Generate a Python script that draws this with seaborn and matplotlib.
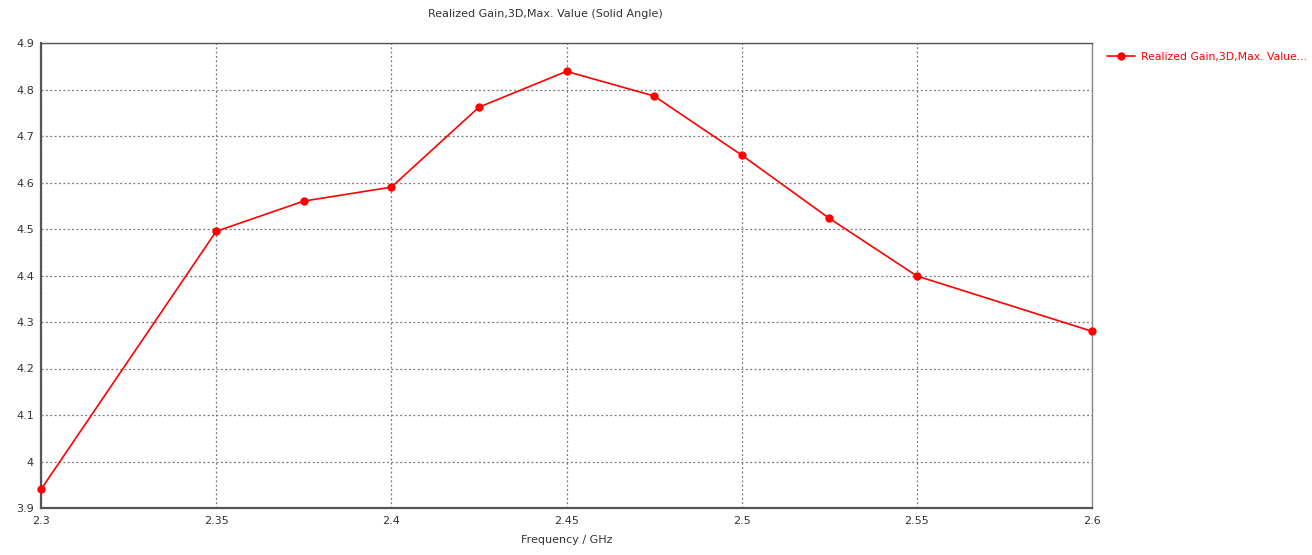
import matplotlib
matplotlib.use("Agg")
import matplotlib.pyplot as plt
import seaborn as sns
import pandas as pd

# Values
freq_ghz = [2.3, 2.35, 2.375, 2.4, 2.425, 2.45, 2.475, 2.5, 2.525, 2.55, 2.6]
gain = [3.94, 4.495, 4.56, 4.59, 4.762, 4.839, 4.786, 4.659, 4.523, 4.399, 4.28]
x_ticks = [2.3, 2.35, 2.4, 2.45, 2.5, 2.55, 2.6]
x_tick_labels = ["2.3", "2.35", "2.4", "2.45", "2.5", "2.55", "2.6"]
y_ticks = [3.9, 4.0, 4.1, 4.2, 4.3, 4.4, 4.5, 4.6, 4.7, 4.8, 4.9]
y_tick_labels = ["3.9", "4", "4.1", "4.2", "4.3", "4.4", "4.5", "4.6", "4.7", "4.8", "4.9"]
series_name = "Realized Gain,3D,Max. Value..."

sns.set_style("white")
plt.rcParams['font.family'] = ['DejaVu Sans']

df = pd.DataFrame({"freq": freq_ghz, "gain": gain})

fig = plt.figure(figsize=(13.12, 5.55), dpi=100)
ax = fig.add_axes([41 / 1312, 1 - 508 / 555, (1092 - 41) / 1312, (508 - 43) / 555])

sns.lineplot(data=df, x="freq", y="gain", ax=ax, color="#ff0000", marker="o",
             markersize=6, markeredgewidth=0, linewidth=1.2, label=series_name,
             zorder=3, clip_on=False)

ax.set_xlim(2.3, 2.6)
ax.set_ylim(3.9, 4.9)
ax.set_xticks(x_ticks)
ax.set_xticklabels(x_tick_labels)
ax.set_yticks(y_ticks)
ax.set_yticklabels(y_tick_labels)
ax.tick_params(axis="both", labelsize=8, colors="#333333", length=3, width=0.8,
               direction="out", pad=2)
ax.tick_params(axis="x", pad=3)

ax.grid(True, linestyle=(0, (1.5, 2)), color="#777777", linewidth=0.9)
for side in ["left", "bottom", "top", "right"]:
    ax.spines[side].set_color("#555555")
    ax.spines[side].set_linewidth(1.0)
ax.spines["left"].set_linewidth(1.6)
ax.spines["bottom"].set_linewidth(1.6)
ax.spines["right"].set_color("#888888")

ax.set_xlabel("Frequency / GHz", fontsize=8, color="#333333", labelpad=6)
ax.set_ylabel("")

fig.text(545 / 1312, 1 - 14 / 555, "Realized Gain,3D,Max. Value (Solid Angle)",
         ha="center", va="center", fontsize=8, color="#333333")

leg = ax.legend(loc="upper left", bbox_to_anchor=(1.006, 1.0), frameon=False,
                fontsize=7.8, handlelength=2.6, borderaxespad=0.4,
                handletextpad=0.5)
for t in leg.get_texts():
    t.set_color("#ff0000")

fig.savefig("out.png", dpi=100)
